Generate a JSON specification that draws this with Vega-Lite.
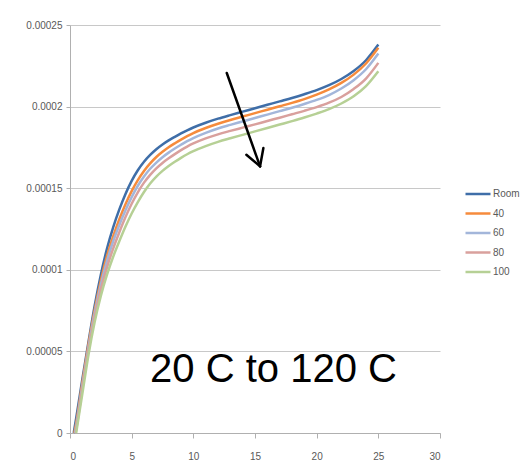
{
  "$schema": "https://vega.github.io/schema/vega-lite/v6.json",
  "width": 370,
  "height": 408,
  "autosize": {"type": "none"},
  "padding": {"left": 70, "top": 25, "right": 88, "bottom": 43},
  "background": "white",
  "config": {
    "view": {"stroke": null},
    "font": "Liberation Sans",
    "axis": {"labelFont": "Liberation Sans", "labelFontSize": 10, "labelColor": "#595959", "domainColor": "#b0b0b0", "tickColor": "#b0b0b0", "gridColor": "#c8c8c8", "title": null}
  },
  "datasets": {
    "curves": [
      {"s":"Room","x":0.3,"y":0},{"s":"Room","x":0.5,"y":9e-6},{"s":"Room","x":1,"y":33e-6},{"s":"Room","x":1.5,"y":56e-6},{"s":"Room","x":2,"y":78e-6},{"s":"Room","x":2.5,"y":97e-6},{"s":"Room","x":3,"y":113e-6},{"s":"Room","x":3.5,"y":126e-6},{"s":"Room","x":4,"y":137e-6},{"s":"Room","x":4.5,"y":146.5e-6},{"s":"Room","x":5,"y":154.5e-6},{"s":"Room","x":5.5,"y":161e-6},{"s":"Room","x":6,"y":166.2e-6},{"s":"Room","x":6.5,"y":170.4e-6},{"s":"Room","x":7,"y":173.9e-6},{"s":"Room","x":7.5,"y":176.8e-6},{"s":"Room","x":8,"y":179.3e-6},{"s":"Room","x":8.5,"y":181.5e-6},{"s":"Room","x":9,"y":183.6e-6},{"s":"Room","x":9.5,"y":185.5e-6},{"s":"Room","x":10,"y":187.2e-6},{"s":"Room","x":11,"y":190.1e-6},{"s":"Room","x":12,"y":192.6e-6},{"s":"Room","x":13,"y":194.8e-6},{"s":"Room","x":14,"y":196.9e-6},{"s":"Room","x":15,"y":199e-6},{"s":"Room","x":16,"y":201.1e-6},{"s":"Room","x":17,"y":203.2e-6},{"s":"Room","x":18,"y":205.3e-6},{"s":"Room","x":19,"y":207.6e-6},{"s":"Room","x":20,"y":210.1e-6},{"s":"Room","x":21,"y":213.1e-6},{"s":"Room","x":22,"y":216.9e-6},{"s":"Room","x":23,"y":221.8e-6},{"s":"Room","x":24,"y":228.4e-6},{"s":"Room","x":25,"y":238e-6},
      {"s":"40","x":0.35,"y":0},{"s":"40","x":0.5,"y":6e-6},{"s":"40","x":1,"y":31e-6},{"s":"40","x":1.5,"y":54.5e-6},{"s":"40","x":2,"y":75.5e-6},{"s":"40","x":2.5,"y":93.5e-6},{"s":"40","x":3,"y":108.5e-6},{"s":"40","x":3.5,"y":120.5e-6},{"s":"40","x":4,"y":131e-6},{"s":"40","x":4.5,"y":140.2e-6},{"s":"40","x":5,"y":148.2e-6},{"s":"40","x":5.5,"y":155e-6},{"s":"40","x":6,"y":160.6e-6},{"s":"40","x":6.5,"y":165.2e-6},{"s":"40","x":7,"y":169.1e-6},{"s":"40","x":7.5,"y":172.3e-6},{"s":"40","x":8,"y":175.1e-6},{"s":"40","x":8.5,"y":177.5e-6},{"s":"40","x":9,"y":179.8e-6},{"s":"40","x":9.5,"y":181.9e-6},{"s":"40","x":10,"y":183.8e-6},{"s":"40","x":11,"y":186.9e-6},{"s":"40","x":12,"y":189.5e-6},{"s":"40","x":13,"y":191.8e-6},{"s":"40","x":14,"y":193.9e-6},{"s":"40","x":15,"y":196e-6},{"s":"40","x":16,"y":198.1e-6},{"s":"40","x":17,"y":200.2e-6},{"s":"40","x":18,"y":202.3e-6},{"s":"40","x":19,"y":204.6e-6},{"s":"40","x":20,"y":207.3e-6},{"s":"40","x":21,"y":210.5e-6},{"s":"40","x":22,"y":214.5e-6},{"s":"40","x":23,"y":219.6e-6},{"s":"40","x":24,"y":226.4e-6},{"s":"40","x":25,"y":236e-6},
      {"s":"60","x":0.4,"y":0},{"s":"60","x":0.5,"y":4e-6},{"s":"60","x":1,"y":29e-6},{"s":"60","x":1.5,"y":52.5e-6},{"s":"60","x":2,"y":73.5e-6},{"s":"60","x":2.5,"y":91e-6},{"s":"60","x":3,"y":105.5e-6},{"s":"60","x":3.5,"y":117.5e-6},{"s":"60","x":4,"y":127.5e-6},{"s":"60","x":4.5,"y":136.5e-6},{"s":"60","x":5,"y":144.5e-6},{"s":"60","x":5.5,"y":151.5e-6},{"s":"60","x":6,"y":157.2e-6},{"s":"60","x":6.5,"y":161.9e-6},{"s":"60","x":7,"y":165.7e-6},{"s":"60","x":7.5,"y":169e-6},{"s":"60","x":8,"y":171.8e-6},{"s":"60","x":8.5,"y":174.3e-6},{"s":"60","x":9,"y":176.6e-6},{"s":"60","x":9.5,"y":178.8e-6},{"s":"60","x":10,"y":180.7e-6},{"s":"60","x":11,"y":183.9e-6},{"s":"60","x":12,"y":186.6e-6},{"s":"60","x":13,"y":188.8e-6},{"s":"60","x":14,"y":190.9e-6},{"s":"60","x":15,"y":193e-6},{"s":"60","x":16,"y":195.1e-6},{"s":"60","x":17,"y":197.2e-6},{"s":"60","x":18,"y":199.3e-6},{"s":"60","x":19,"y":201.6e-6},{"s":"60","x":20,"y":204.1e-6},{"s":"60","x":21,"y":207.1e-6},{"s":"60","x":22,"y":211.1e-6},{"s":"60","x":23,"y":216.2e-6},{"s":"60","x":24,"y":222.9e-6},{"s":"60","x":25,"y":232.5e-6},
      {"s":"80","x":0.45,"y":0},{"s":"80","x":0.5,"y":2e-6},{"s":"80","x":1,"y":27e-6},{"s":"80","x":1.5,"y":50.5e-6},{"s":"80","x":2,"y":71e-6},{"s":"80","x":2.5,"y":88e-6},{"s":"80","x":3,"y":101.5e-6},{"s":"80","x":3.5,"y":113e-6},{"s":"80","x":4,"y":123e-6},{"s":"80","x":4.5,"y":132.3e-6},{"s":"80","x":5,"y":140.5e-6},{"s":"80","x":5.5,"y":147.5e-6},{"s":"80","x":6,"y":153.4e-6},{"s":"80","x":6.5,"y":158.2e-6},{"s":"80","x":7,"y":162.2e-6},{"s":"80","x":7.5,"y":165.5e-6},{"s":"80","x":8,"y":168.3e-6},{"s":"80","x":8.5,"y":170.9e-6},{"s":"80","x":9,"y":173.3e-6},{"s":"80","x":9.5,"y":175.5e-6},{"s":"80","x":10,"y":177.4e-6},{"s":"80","x":11,"y":180.5e-6},{"s":"80","x":12,"y":183e-6},{"s":"80","x":13,"y":185.1e-6},{"s":"80","x":14,"y":187.1e-6},{"s":"80","x":15,"y":189.1e-6},{"s":"80","x":16,"y":191.2e-6},{"s":"80","x":17,"y":193.2e-6},{"s":"80","x":18,"y":195.3e-6},{"s":"80","x":19,"y":197.4e-6},{"s":"80","x":20,"y":199.7e-6},{"s":"80","x":21,"y":202.4e-6},{"s":"80","x":22,"y":205.9e-6},{"s":"80","x":23,"y":210.8e-6},{"s":"80","x":24,"y":217.2e-6},{"s":"80","x":25,"y":226.8e-6},
      {"s":"100","x":0.5,"y":0},{"s":"100","x":1,"y":24e-6},{"s":"100","x":1.5,"y":48e-6},{"s":"100","x":2,"y":68e-6},{"s":"100","x":2.5,"y":84e-6},{"s":"100","x":3,"y":97e-6},{"s":"100","x":3.5,"y":108e-6},{"s":"100","x":4,"y":117.5e-6},{"s":"100","x":4.5,"y":126.5e-6},{"s":"100","x":5,"y":134.5e-6},{"s":"100","x":5.5,"y":141.5e-6},{"s":"100","x":6,"y":147.7e-6},{"s":"100","x":6.5,"y":152.9e-6},{"s":"100","x":7,"y":157.1e-6},{"s":"100","x":7.5,"y":160.6e-6},{"s":"100","x":8,"y":163.6e-6},{"s":"100","x":8.5,"y":166.2e-6},{"s":"100","x":9,"y":168.6e-6},{"s":"100","x":9.5,"y":170.8e-6},{"s":"100","x":10,"y":172.7e-6},{"s":"100","x":11,"y":175.8e-6},{"s":"100","x":12,"y":178.4e-6},{"s":"100","x":13,"y":180.6e-6},{"s":"100","x":14,"y":182.7e-6},{"s":"100","x":15,"y":184.8e-6},{"s":"100","x":16,"y":186.9e-6},{"s":"100","x":17,"y":189e-6},{"s":"100","x":18,"y":191.1e-6},{"s":"100","x":19,"y":193.3e-6},{"s":"100","x":20,"y":195.7e-6},{"s":"100","x":21,"y":198.4e-6},{"s":"100","x":22,"y":201.9e-6},{"s":"100","x":23,"y":206.3e-6},{"s":"100","x":24,"y":212.5e-6},{"s":"100","x":25,"y":221.6e-6}
    ],
    "arrow": [
      {"x":12.71,"y":0.0002206,"x2":15.41,"y2":0.0001634},
      {"x":14.3,"y":0.0001705,"x2":15.41,"y2":0.0001634},
      {"x":15.68,"y":0.0001746,"x2":15.41,"y2":0.0001634}
    ],
    "note": [{"x":16.5,"y":0.000031,"label":"20 C to 120 C"}]
  },
  "layer": [
    {
      "data": {"name": "curves"},
      "mark": {"type": "line", "strokeWidth": 2.5, "interpolate": "monotone"},
      "encoding": {
        "x": {"field": "x", "type": "quantitative", "scale": {"domain": [0, 30], "nice": false},
              "axis": {"values": [0,5,10,15,20,25,30], "grid": false, "tickSize": 5, "labelPadding": 13, "domain": true}},
        "y": {"field": "y", "type": "quantitative", "scale": {"domain": [0, 0.00025], "nice": false},
              "axis": {"values": [0,0.00005,0.0001,0.00015,0.0002,0.00025], "format": ".5~f", "grid": true, "tickSize": 4, "labelPadding": 4, "domain": true}},
        "color": {"field": "s", "type": "nominal",
          "scale": {"domain": ["Room","40","60","80","100"], "range": ["#3f6ea8","#f68b3c","#a3b6da","#d9a09d","#b6d095"]},
          "legend": {"title": null, "orient": "none", "legendX": 394, "legendY": 155, "padding": 0, "symbolType": "stroke", "symbolSize": 625, "symbolStrokeWidth": 2.5, "labelOffset": 1, "rowPadding": 0.5, "labelFont": "Liberation Sans", "labelFontSize": 10, "labelColor": "#595959"}},
        "detail": {"field": "s"}
      }
    },
    {
      "data": {"name": "arrow"},
      "mark": {"type": "rule", "color": "black", "strokeWidth": 2.5, "strokeCap": "round"},
      "encoding": {
        "x": {"field": "x", "type": "quantitative"},
        "y": {"field": "y", "type": "quantitative"},
        "x2": {"field": "x2"},
        "y2": {"field": "y2"}
      }
    },
    {
      "data": {"name": "note"},
      "mark": {"type": "text", "font": "Liberation Sans", "fontSize": 40, "color": "black", "align": "center", "baseline": "alphabetic"},
      "encoding": {
        "x": {"field": "x", "type": "quantitative"},
        "y": {"field": "y", "type": "quantitative"},
        "text": {"field": "label"}
      }
    }
  ]
}
